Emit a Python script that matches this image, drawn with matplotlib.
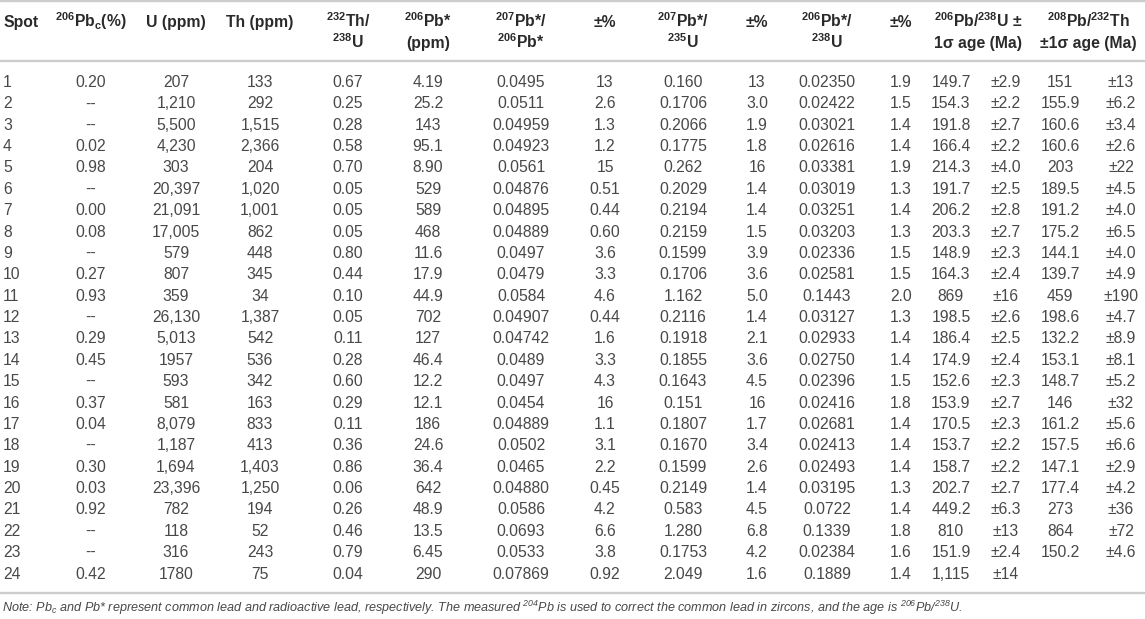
import matplotlib
matplotlib.use("Agg")
import matplotlib.pyplot as plt

# ---------------- data ----------------
spot = [str(i) for i in range(1, 25)]
pbc = ["0.20", "--", "--", "0.02", "0.98", "--", "0.00", "0.08", "--", "0.27", "0.93", "--",
       "0.29", "0.45", "--", "0.37", "0.04", "--", "0.30", "0.03", "0.92", "--", "--", "0.42"]
u_ppm = ["207", "1,210", "5,500", "4,230", "303", "20,397", "21,091", "17,005", "579", "807", "359",
         "26,130", "5,013", "1957", "593", "581", "8,079", "1,187", "1,694", "23,396", "782", "118", "316", "1780"]
th_ppm = ["133", "292", "1,515", "2,366", "204", "1,020", "1,001", "862", "448", "345", "34", "1,387",
          "542", "536", "342", "163", "833", "413", "1,403", "1,250", "194", "52", "243", "75"]
th_u = ["0.67", "0.25", "0.28", "0.58", "0.70", "0.05", "0.05", "0.05", "0.80", "0.44", "0.10", "0.05",
        "0.11", "0.28", "0.60", "0.29", "0.11", "0.36", "0.86", "0.06", "0.26", "0.46", "0.79", "0.04"]
pb206_ppm = ["4.19", "25.2", "143", "95.1", "8.90", "529", "589", "468", "11.6", "17.9", "44.9", "702",
             "127", "46.4", "12.2", "12.1", "186", "24.6", "36.4", "642", "48.9", "13.5", "6.45", "290"]
r207_206 = ["0.0495", "0.0511", "0.04959", "0.04923", "0.0561", "0.04876", "0.04895", "0.04889", "0.0497",
            "0.0479", "0.0584", "0.04907", "0.04742", "0.0489", "0.0497", "0.0454", "0.04889", "0.0502",
            "0.0465", "0.04880", "0.0586", "0.0693", "0.0533", "0.07869"]
e207_206 = ["13", "2.6", "1.3", "1.2", "15", "0.51", "0.44", "0.60", "3.6", "3.3", "4.6", "0.44",
            "1.6", "3.3", "4.3", "16", "1.1", "3.1", "2.2", "0.45", "4.2", "6.6", "3.8", "0.92"]
r207_235 = ["0.160", "0.1706", "0.2066", "0.1775", "0.262", "0.2029", "0.2194", "0.2159", "0.1599",
            "0.1706", "1.162", "0.2116", "0.1918", "0.1855", "0.1643", "0.151", "0.1807", "0.1670",
            "0.1599", "0.2149", "0.583", "1.280", "0.1753", "2.049"]
e207_235 = ["13", "3.0", "1.9", "1.8", "16", "1.4", "1.4", "1.5", "3.9", "3.6", "5.0", "1.4",
            "2.1", "3.6", "4.5", "16", "1.7", "3.4", "2.6", "1.4", "4.5", "6.8", "4.2", "1.6"]
r206_238 = ["0.02350", "0.02422", "0.03021", "0.02616", "0.03381", "0.03019", "0.03251", "0.03203",
            "0.02336", "0.02581", "0.1443", "0.03127", "0.02933", "0.02750", "0.02396", "0.02416",
            "0.02681", "0.02413", "0.02493", "0.03195", "0.0722", "0.1339", "0.02384", "0.1889"]
e206_238 = ["1.9", "1.5", "1.4", "1.4", "1.9", "1.3", "1.4", "1.3", "1.5", "1.5", "2.0", "1.3",
            "1.4", "1.4", "1.5", "1.8", "1.4", "1.4", "1.4", "1.3", "1.4", "1.8", "1.6", "1.4"]
age206 = ["149.7", "154.3", "191.8", "166.4", "214.3", "191.7", "206.2", "203.3", "148.9", "164.3",
          "869", "198.5", "186.4", "174.9", "152.6", "153.9", "170.5", "153.7", "158.7", "202.7",
          "449.2", "810", "151.9", "1,115"]
err206 = ["±2.9", "±2.2", "±2.7", "±2.2", "±4.0", "±2.5", "±2.8", "±2.7", "±2.3", "±2.4", "±16", "±2.6",
          "±2.5", "±2.4", "±2.3", "±2.7", "±2.3", "±2.2", "±2.2", "±2.7", "±6.3", "±13", "±2.4", "±14"]
age208 = ["151", "155.9", "160.6", "160.6", "203", "189.5", "191.2", "175.2", "144.1", "139.7", "459",
          "198.6", "132.2", "153.1", "148.7", "146", "161.2", "157.5", "147.1", "177.4", "273", "864",
          "150.2", ""]
err208 = ["±13", "±6.2", "±3.4", "±2.6", "±22", "±4.5", "±4.0", "±6.5", "±4.0", "±4.9", "±190", "±4.7",
          "±8.9", "±8.1", "±5.2", "±32", "±5.6", "±6.6", "±2.9", "±4.2", "±36", "±72", "±4.6", ""]

S = r"\mathregular"
headers = [
    ["Spot"],
    [f"${S}{{^{{206}}}}$Pb${S}{{_c}}$(%)"],
    ["U (ppm)"],
    ["Th (ppm)"],
    [f"${S}{{^{{232}}}}$Th/", f"${S}{{^{{238}}}}$U"],
    [f"${S}{{^{{206}}}}$Pb*", "(ppm)"],
    [f"${S}{{^{{207}}}}$Pb*/", f"${S}{{^{{206}}}}$Pb*"],
    ["±%"],
    [f"${S}{{^{{207}}}}$Pb*/", f"${S}{{^{{235}}}}$U"],
    ["±%"],
    [f"${S}{{^{{206}}}}$Pb*/", f"${S}{{^{{238}}}}$U"],
    ["±%"],
    [f"${S}{{^{{206}}}}$Pb/${S}{{^{{238}}}}$U ±", "1σ age (Ma)"],
    [f"${S}{{^{{208}}}}$Pb/${S}{{^{{232}}}}$Th", "±1σ age (Ma)"],
]
note = (f"Note: Pb${S}{{_c}}$ and Pb* represent common lead and radioactive lead, respectively. "
        f"The measured ${S}{{^{{204}}}}$Pb is used to correct the common lead in zircons, "
        f"and the age is ${S}{{^{{206}}}}$Pb/${S}{{^{{238}}}}$U.")

data_cols = [spot, pbc, u_ppm, th_ppm, th_u, pb206_ppm, r207_206, e207_206,
             r207_235, e207_235, r206_238, e206_238, age206, err206, age208, err208]

# ---------------- layout ----------------
W, H = 1145, 619
fig = plt.figure(figsize=(W / 100, H / 100), dpi=100)
ax = fig.add_axes([0, 0, 1, 1])
ax.set_xlim(0, W)
ax.set_ylim(H, 0)
ax.axis("off")

FONT = ["Liberation Sans", "DejaVu Sans"]
TXT = "#484848"
HDR = "#2a2a2a"
LINE = "#cdcdcd"
FS = 11.3

header_x = [3, 91, 176, 260, 348, 428, 521, 605, 683, 757, 827, 901, 978, 1088]
header_ha = ["left"] + ["center"] * 13
data_x = [3, 91, 176, 260, 348, 428, 521, 605, 683, 757, 827, 901, 951, 1006, 1060, 1121]
data_ha = ["left"] + ["center"] * 15

base1, base2 = 27, 48
row0, dy = 87, 21.37

for lines, x, ha in zip(headers, header_x, header_ha):
    for k, s in enumerate(lines):
        ax.text(x, base1 if k == 0 else base2, s, ha=ha, va="baseline", fontsize=FS,
                fontweight="bold", family=FONT, color=HDR)

for col, x, ha in zip(data_cols, data_x, data_ha):
    for i, s in enumerate(col):
        if s:
            ax.text(x, row0 + i * dy, s, ha=ha, va="baseline", fontsize=FS,
                    family=FONT, color=TXT)

for y in (1, 61, 593):
    ax.plot([0, W], [y, y], color=LINE, lw=1.7, solid_capstyle="butt")

nt = ax.text(2, 612, note, ha="left", va="baseline", fontsize=11, fontstyle="italic",
             family=FONT, color=TXT)
r = fig.canvas.get_renderer()
w = nt.get_window_extent(r).width
nt.set_fontsize(11 * 956 / w)

fig.savefig("out.png", dpi=100)
